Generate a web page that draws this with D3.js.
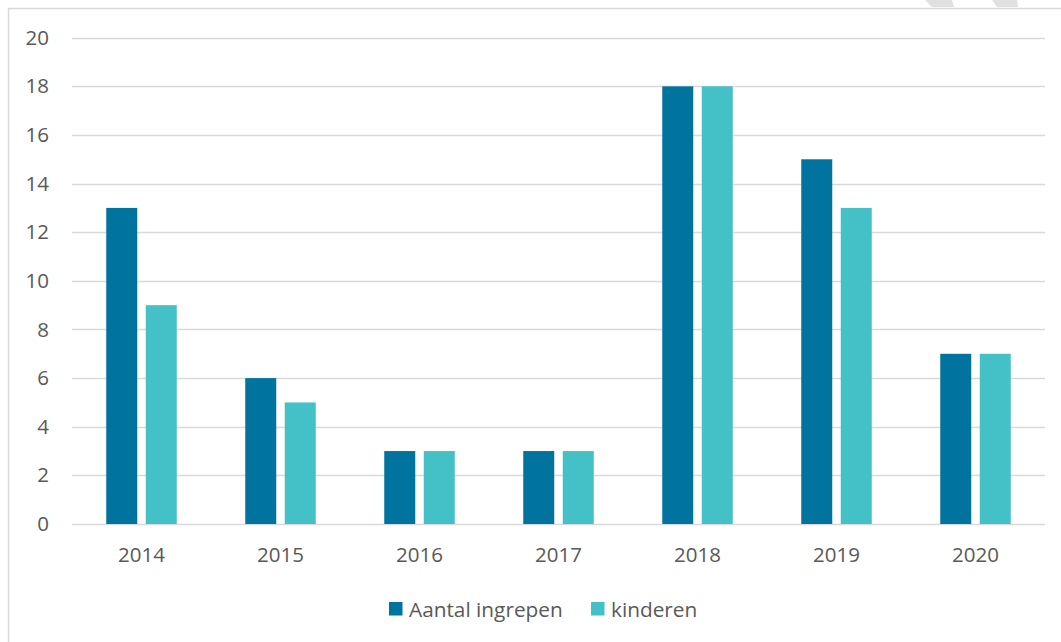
<!DOCTYPE html>
<html>
<head>
<meta charset="utf-8">
<script src="https://cdn.jsdelivr.net/npm/d3@7"></script>
<style>
  html, body { margin: 0; padding: 0; background: #ffffff; }
  svg { display: block; }
  text { font-family: "Open Sans", "Noto Sans", sans-serif; fill: #595959; }
</style>
</head>
<body>
<script>
const years = ["2014", "2015", "2016", "2017", "2018", "2019", "2020"];
const seriesNames = ["Aantal ingrepen", "kinderen"];
const ingrepen = [13, 6, 3, 3, 18, 15, 7];
const kinderen = [9, 5, 3, 3, 18, 13, 7];
const yTicks = [0, 2, 4, 6, 8, 10, 12, 14, 16, 18, 20];
const colors = ["#00739F", "#43C1C6"];

const W = 1061, H = 642;
const svg = d3.select("body").append("svg").attr("width", W).attr("height", H);

// outer chart border (right/bottom cut off)
svg.append("rect")
  .attr("x", 8.5).attr("y", 8.5)
  .attr("width", W + 20).attr("height", H + 20)
  .attr("fill", "none").attr("stroke", "#D9D9D9").attr("stroke-width", 1.5);

// faint watermark fragments above the frame
const wm = [
  [[925, 0], [952, 0], [954, 7], [932, 7]],
  [[992, 0], [1017, 0], [1018, 7], [997, 7]]
];
svg.selectAll("polygon.wm").data(wm).enter().append("polygon")
  .attr("class", "wm")
  .attr("points", d => d.map(p => p.join(",")).join(" "))
  .attr("fill", "#E0E0E0");

const plot = { left: 72, right: 1045, top: 37.7, bottom: 524 };

const x = d3.scaleBand().domain(years).range([plot.left, plot.right]).paddingInner(0).paddingOuter(0);
const y = d3.scaleLinear().domain([0, 20]).range([plot.bottom, plot.top]);

// gridlines
svg.append("g").selectAll("line").data(yTicks).enter().append("line")
  .attr("x1", plot.left).attr("x2", plot.right)
  .attr("y1", d => Math.round(y(d)) + 0.5).attr("y2", d => Math.round(y(d)) + 0.5)
  .attr("stroke", "#D9D9D9").attr("stroke-width", 1.3);

// y labels via axis
const yAxis = svg.append("g")
  .attr("transform", `translate(${plot.left - 23},0)`)
  .call(d3.axisLeft(y).tickValues(yTicks).tickSize(0).tickPadding(0));
yAxis.select(".domain").remove();
yAxis.selectAll("text")
  .style("font-family", '"Open Sans", sans-serif')
  .style("font-size", "20.5px").attr("fill", "#595959");

// x labels via axis
const xAxis = svg.append("g")
  .attr("transform", `translate(0,${plot.bottom + 23})`)
  .call(d3.axisBottom(x).tickSize(0).tickPadding(0));
xAxis.select(".domain").remove();
xAxis.selectAll("text")
  .style("font-family", '"Open Sans", sans-serif')
  .style("font-size", "20.5px").attr("fill", "#595959")
  .attr("dy", "0.71em");

// bars
const barW = 31, gap = 8.5;
const groupOffset = (x.bandwidth() - (barW * 2 + gap)) / 2;
const rows = years.map((yr, i) => ({ yr, vals: [ingrepen[i], kinderen[i]] }));
const g = svg.append("g").selectAll("g").data(rows).enter().append("g")
  .attr("transform", d => `translate(${x(d.yr) + groupOffset},0)`);
g.selectAll("rect").data(d => d.vals.map((v, k) => ({ v, k }))).enter().append("rect")
  .attr("x", d => d.k * (barW + gap))
  .attr("width", barW)
  .attr("y", d => y(d.v))
  .attr("height", d => y(0) - y(d.v))
  .attr("fill", d => colors[d.k]);

// legend
const legend = svg.append("g");
const legendItems = [
  { name: seriesNames[0], color: colors[0], x: 389 },
  { name: seriesNames[1], color: colors[1], x: 591 }
];
const li = legend.selectAll("g").data(legendItems).enter().append("g")
  .attr("transform", d => `translate(${d.x},602)`);
li.append("rect").attr("width", 13.5).attr("height", 13.5).attr("fill", d => d.color);
li.append("text").attr("x", 20).attr("y", 14.5)
  .style("font-size", "20.8px").text(d => d.name);
</script>
</body>
</html>
